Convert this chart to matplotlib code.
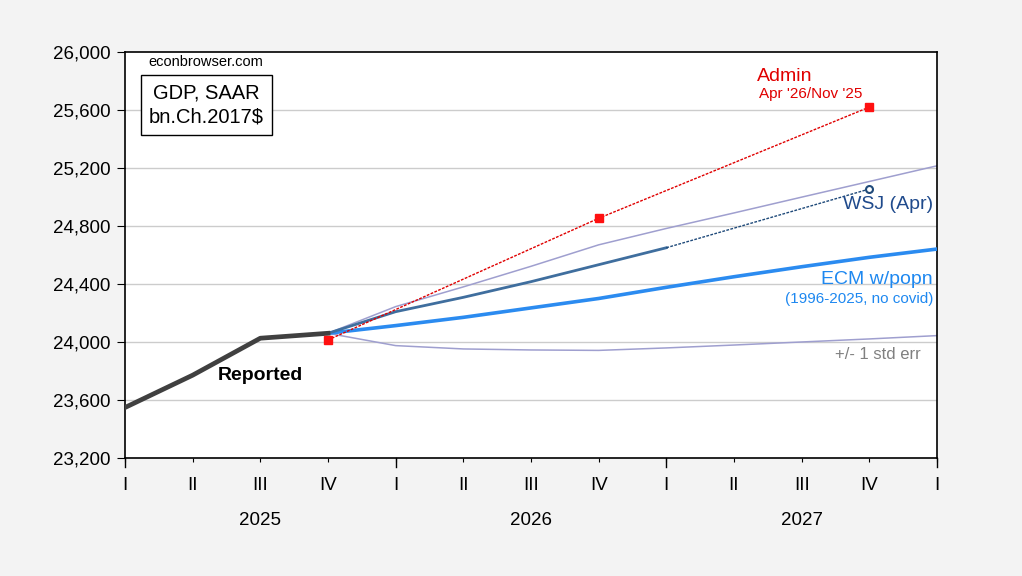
import numpy as np
import matplotlib.pyplot as plt

plt.rcParams['font.family'] = ['Liberation Sans', 'DejaVu Sans']

# quarters 2025Q1 .. 2028Q1
quarters = ['I', 'II', 'III', 'IV', 'I', 'II', 'III', 'IV', 'I', 'II', 'III', 'IV', 'I']
years = ['2025', '2026', '2027']
year_pos = [2, 6, 10]

reported_x = [0, 1, 2, 3]
reported = [23548, 23771, 24026, 24060]

fc_x = [3, 4, 5, 6, 7, 8, 9, 10, 11, 12]
ecm = [24060, 24113, 24170, 24235, 24300, 24377, 24450, 24519, 24584, 24641]
upper = [24060, 24244, 24380, 24522, 24670, 24783, 24890, 24999, 25107, 25215]
lower = [24060, 23975, 23952, 23945, 23942, 23959, 23979, 24000, 24021, 24044]

wsj_x = [3, 4, 5, 6, 7, 8]
wsj = [24060, 24209, 24308, 24416, 24533, 24650]
wsj_dot_x = [8, 11]
wsj_dot = [24650, 25055]

admin_x = [3, 7, 11]
admin = [24014, 24853, 25620]

fig = plt.figure(figsize=(10.22, 5.76), dpi=100, facecolor='#f3f3f3')
ax = fig.add_axes([0.1223, 0.2049, 0.7945, 0.7048])
ax.set_facecolor('white')

ax.set_ylim(23200, 26000)
ax.set_xlim(0, 12)
yt = np.arange(23200, 26001, 400)
ax.set_yticks(yt)
ax.set_yticklabels([f'{v:,}' for v in yt], fontsize=13.5)
for v in yt[1:-1]:
    ax.axhline(v, color='#cccccc', lw=1, zorder=0)

ax.set_xticks(range(13))
ax.set_xticklabels(quarters, fontsize=13.5)
ax.tick_params(axis='x', length=3, pad=10.5)
ax.tick_params(axis='y', length=5.5, pad=5)
for i in [0, 4, 8, 12]:
    ax.plot([i, i], [0, -0.022], transform=ax.get_xaxis_transform(), color='black', lw=1, clip_on=False)
for p, yr in zip(year_pos, years):
    ax.text(p, -0.155, yr, transform=ax.get_xaxis_transform(), ha='center', va='center', fontsize=13.5)
for s in ax.spines.values():
    s.set_linewidth(1.2)

ax.plot(fc_x, upper, color='#9f9fcf', lw=1.1, zorder=2)
ax.plot(fc_x, lower, color='#9f9fcf', lw=1.1, zorder=2)
ax.plot(fc_x, ecm, color='#2b8bf0', lw=2.6, zorder=3)
ax.plot(wsj_x, wsj, color='#3f6e9e', lw=2, zorder=3)
ax.plot(wsj_dot_x, wsj_dot, color='#1f4a7a', lw=1, ls=(0, (2, 1)), zorder=3)
ax.plot(wsj_dot_x[-1:], wsj_dot[-1:], 'o', mfc='white', mec='#1f4a7a', mew=1.5, ms=5, zorder=4)
ax.plot(admin_x, admin, color='#e00000', lw=1, ls=(0, (2, 1)), zorder=4)
ax.plot(admin_x, admin, 's', color='#ff1010', ms=6, zorder=5)
ax.plot(reported_x, reported, color='#404040', lw=3.4, zorder=4)

ax.text(0.34, 25931, 'econbrowser.com', fontsize=10.5, va='center')
ax.text(1.204, 25634, 'GDP, SAAR\nbn.Ch.2017$', fontsize=14.5, ha='center', va='center', linespacing=1.35,
        bbox=dict(boxstyle='square,pad=0.42', fc='white', ec='black', lw=1))
ax.text(9.34, 25828, 'Admin', color='#e00000', fontsize=14, va='center')
ax.text(9.37, 25710, "Apr '26/Nov '25", color='#e00000', fontsize=11, va='center')
ax.text(11.94, 24945, 'WSJ (Apr)', color='#1f4a8c', fontsize=14, ha='right', va='center')
ax.text(11.94, 24428, 'ECM w/popn', color='#1e88f0', fontsize=14, ha='right', va='center')
ax.text(11.94, 24297, '(1996-2025, no covid)', color='#1e88f0', fontsize=11, ha='right', va='center')
ax.text(10.5, 23917, '+/- 1 std err', color='#808080', fontsize=12, va='center')
ax.text(1.375, 23772, 'Reported', fontsize=14, fontweight='bold', va='center')

fig.savefig('out.png', dpi=100, facecolor=fig.get_facecolor())
